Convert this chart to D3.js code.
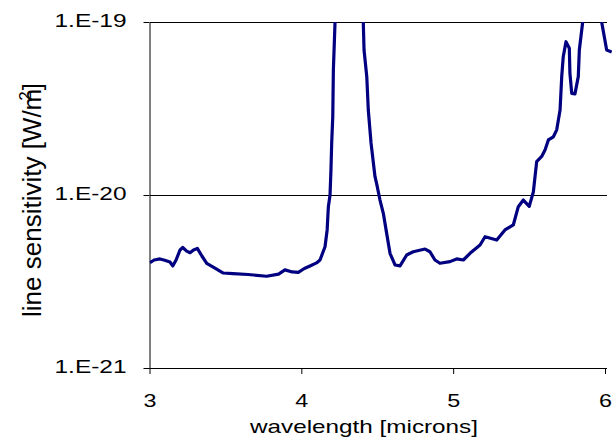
<!DOCTYPE html>
<html>
<head>
<meta charset="utf-8">
<script src="https://cdn.jsdelivr.net/npm/d3@7"></script>
<style>
  html, body { margin: 0; padding: 0; background: #fff; }
  svg { display: block; font-family: "Liberation Sans", Arial, sans-serif; }
</style>
</head>
<body>
<svg id="chart" width="612" height="446"></svg>
<script>
// Wavelength samples (microns)
const wavelength = [
  3.003, 3.03, 3.069, 3.10, 3.135, 3.153, 3.175, 3.201, 3.219, 3.245, 3.267, 3.290, 3.315,
  3.345, 3.377, 3.431, 3.486, 3.55, 3.65, 3.772, 3.85, 3.892, 3.94, 3.980, 4.02, 4.057,
  4.10, 4.123, 4.156, 4.17, 4.178, 4.189, 4.195, 4.200, 4.207, 4.211, 4.222, 4.26, 4.32,
  4.38, 4.408, 4.413, 4.431, 4.441, 4.459, 4.485, 4.498, 4.518, 4.540, 4.562, 4.584,
  4.617, 4.650, 4.694, 4.737, 4.815, 4.847, 4.880, 4.913, 4.979, 5.023, 5.067, 5.111,
  5.177, 5.210, 5.287, 5.341, 5.396, 5.429, 5.462, 5.501, 5.528, 5.550, 5.583, 5.605,
  5.627, 5.660, 5.682, 5.704, 5.715, 5.725, 5.743, 5.765, 5.769, 5.781, 5.802, 5.824,
  5.831, 5.853, 5.90, 5.95, 5.978, 6.011, 6.044
];

// Line sensitivity (W/m^2)
const sensitivity = [
  4.06e-21, 4.21e-21, 4.27e-21, 4.20e-21, 4.10e-21, 3.89e-21, 4.21e-21, 4.81e-21, 4.97e-21,
  4.74e-21, 4.64e-21, 4.81e-21, 4.91e-21, 4.44e-21, 4.03e-21, 3.78e-21, 3.54e-21, 3.51e-21,
  3.47e-21, 3.39e-21, 3.49e-21, 3.69e-21, 3.59e-21, 3.57e-21, 3.76e-21, 3.89e-21, 4.05e-21,
  4.21e-21, 5.02e-21, 6.28e-21, 8.56e-21, 1.00e-20, 1.39e-20, 2.00e-20, 2.84e-20, 5.28e-20,
  1.00e-19, 3.0e-19, 4.0e-19, 3.0e-19, 1.00e-19, 6.89e-20, 4.83e-20, 3.10e-20, 2.00e-20,
  1.28e-20, 1.14e-20, 9.35e-21, 7.84e-21, 6.00e-21, 4.60e-21, 3.94e-21, 3.89e-21, 4.50e-21,
  4.70e-21, 4.87e-21, 4.70e-21, 4.21e-21, 4.03e-21, 4.12e-21, 4.27e-21, 4.21e-21, 4.60e-21,
  5.14e-21, 5.74e-21, 5.49e-21, 6.28e-21, 6.71e-21, 8.56e-21, 9.35e-21, 8.60e-21, 1.04e-20,
  1.56e-20, 1.67e-20, 1.82e-20, 2.08e-20, 2.17e-20, 2.38e-20, 3.10e-20, 4.83e-20, 6.30e-20,
  7.69e-20, 7.05e-20, 5.05e-20, 3.87e-20, 3.84e-20, 4.83e-20, 6.89e-20, 1.00e-19, 1.5e-19,
  1.3e-19, 1.00e-19, 6.89e-20, 6.71e-20
];

const xTicks = [3, 4, 5, 6];
const yTicks = [1e-21, 1e-20, 1e-19];
const yTickLabels = ["1.E-21", "1.E-20", "1.E-19"];
const xTitle = "wavelength [microns]";

const svg = d3.select("#chart");
const plotLeft = 149.5, plotRight = 605, plotTop = 22, plotBottom = 368;

const x = d3.scaleLinear().domain([3, 6]).range([plotLeft, plotRight]);
const y = d3.scaleLog().domain([1e-21, 1e-19]).range([plotBottom, plotTop]);

// Horizontal gridlines at the upper decades
svg.append("g")
  .selectAll("line")
  .data(yTicks.slice(1))
  .join("line")
  .attr("x1", plotLeft).attr("x2", plotRight + 2)
  .attr("y1", d => y(d)).attr("y2", d => y(d))
  .attr("stroke", "#000").attr("stroke-width", 1)
  .attr("shape-rendering", "crispEdges");

// Bottom axis
const xAxis = svg.append("g")
  .attr("transform", `translate(0,${plotBottom})`)
  .call(d3.axisBottom(x).tickValues(xTicks).tickSize(6).tickSizeOuter(0).tickFormat(d3.format("d")));
xAxis.select(".domain").attr("d", `M${plotLeft},0.5H${plotRight + 2}`).attr("stroke", "#000");
xAxis.selectAll(".tick line").attr("stroke", "#000");
xAxis.selectAll(".tick text")
  .attr("font-size", 19).attr("font-family", "Liberation Sans, Arial, sans-serif")
  .attr("fill", "#000").attr("dy", null).attr("y", 39)
  .attr("textLength", 13).attr("lengthAdjust", "spacingAndGlyphs");

// Left axis
const yAxis = svg.append("g")
  .attr("transform", `translate(${plotLeft},0)`)
  .call(d3.axisLeft(y).tickValues(yTicks).tickSize(6).tickSizeOuter(0)
    .tickFormat((d, i) => yTickLabels[i]));
yAxis.select(".domain").attr("stroke", "#000");
yAxis.selectAll(".tick line").attr("stroke", "#000");
yAxis.selectAll(".tick text")
  .attr("font-size", 19).attr("font-family", "Liberation Sans, Arial, sans-serif")
  .attr("fill", "#000").attr("x", -23).attr("dy", "0.22em")
  .attr("textLength", 72).attr("lengthAdjust", "spacingAndGlyphs");

// Axis titles
svg.append("text")
  .attr("x", 364).attr("y", 433)
  .attr("text-anchor", "middle")
  .attr("font-size", 19)
  .attr("textLength", 228).attr("lengthAdjust", "spacingAndGlyphs")
  .text(xTitle);

const yTitle = svg.append("text")
  .attr("transform", "translate(41,200) rotate(-90)")
  .attr("text-anchor", "middle")
  .attr("font-size", 26);
yTitle.append("tspan").text("line sensitivity [W/m");
yTitle.append("tspan").attr("font-size", 17).attr("dy", -10).attr("dx", -12).text("2");
yTitle.append("tspan").attr("dy", 10).attr("dx", 1).text("]");

// Sensitivity curve, clipped to the plot region
svg.append("clipPath").attr("id", "plotClip")
  .append("rect").attr("x", plotLeft).attr("y", plotTop)
  .attr("width", 612 - plotLeft).attr("height", plotBottom - plotTop);

const pts = wavelength.map((w, i) => [w, sensitivity[i]]);
svg.append("path")
  .datum(pts)
  .attr("clip-path", "url(#plotClip)")
  .attr("fill", "none")
  .attr("stroke", "#000080")
  .attr("stroke-width", 3.2)
  .attr("stroke-linejoin", "round")
  .attr("d", d3.line().x(d => x(d[0])).y(d => y(d[1])));
</script>
</body>
</html>
